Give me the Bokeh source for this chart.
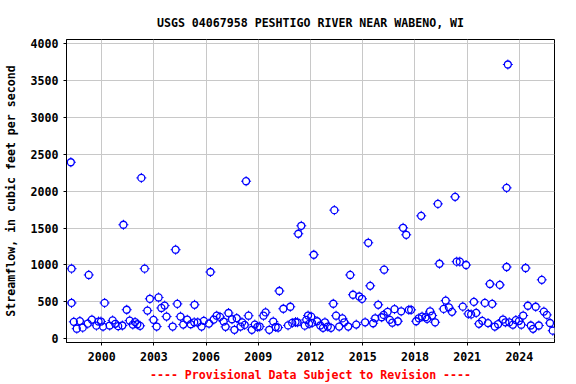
import numpy as np
from bokeh.plotting import figure
from bokeh.models import Range1d, FixedTicker, Title
from bokeh.embed import file_html
from bokeh.resources import INLINE

# Field measurement dates (decimal years) and streamflow (cubic feet per second)
years = [
    1998.23, 1998.27, 1998.27, 1998.40, 1998.57, 1998.75, 1998.91, 1999.20, 1999.26, 1999.44,
    1999.70, 1999.82, 1999.96, 2000.08, 2000.17, 2000.46, 2000.63, 2000.78, 2000.95, 2001.19,
    2001.25, 2001.44, 2001.61, 2001.79, 2001.92, 2002.05, 2002.21, 2002.28, 2002.47, 2002.63,
    2002.77, 2002.98, 2003.16, 2003.27, 2003.43, 2003.62, 2003.73, 2004.08, 2004.25, 2004.35,
    2004.53, 2004.69, 2004.92, 2005.12, 2005.32, 2005.34, 2005.52, 2005.74, 2005.87, 2006.17,
    2006.25, 2006.44, 2006.61, 2006.80, 2007.01, 2007.12, 2007.29, 2007.49, 2007.63, 2007.76,
    2007.98, 2008.07, 2008.22, 2008.30, 2008.44, 2008.63, 2008.80, 2008.95, 2009.08, 2009.30,
    2009.42, 2009.63, 2009.86, 2010.00, 2010.14, 2010.21, 2010.44, 2010.71, 2010.84, 2010.95,
    2011.14, 2011.25, 2011.30, 2011.47, 2011.67, 2011.76, 2011.86, 2011.92, 2012.04, 2012.09,
    2012.19, 2012.38, 2012.56, 2012.72, 2012.83, 2012.99, 2013.18, 2013.31, 2013.37, 2013.47,
    2013.65, 2013.83, 2013.94, 2014.17, 2014.28, 2014.44, 2014.63, 2014.80, 2014.96, 2015.14,
    2015.32, 2015.43, 2015.60, 2015.72, 2015.89, 2016.09, 2016.20, 2016.23, 2016.43, 2016.56,
    2016.70, 2016.83, 2017.02, 2017.21, 2017.32, 2017.50, 2017.65, 2017.78, 2018.07, 2018.22,
    2018.36, 2018.41, 2018.61, 2018.70, 2018.87, 2018.99, 2019.16, 2019.32, 2019.41, 2019.65,
    2019.77, 2019.95, 2020.13, 2020.31, 2020.40, 2020.58, 2020.75, 2020.94, 2021.07, 2021.23,
    2021.39, 2021.52, 2021.68, 2021.87, 2022.02, 2022.20, 2022.31, 2022.44, 2022.59, 2022.78,
    2022.88, 2023.06, 2023.20, 2023.27, 2023.27, 2023.34, 2023.42, 2023.63, 2023.80, 2023.98,
    2024.11, 2024.22, 2024.36, 2024.49, 2024.66, 2024.79, 2024.94, 2025.12, 2025.29, 2025.41,
    2025.58, 2025.76, 2025.92,
]
flow = [
    2392, 950, 486, 230, 137, 240, 151, 205, 865, 259,
    178, 234, 234, 166, 486, 180, 249, 203, 171, 180,
    1545, 394, 247, 193, 227, 197, 176, 2180, 950, 382,
    542, 257, 166, 560, 418, 450, 301, 166, 1207, 473,
    301, 193, 259, 198, 224, 461, 222, 166, 243, 207,
    905, 261, 313, 297, 234, 162, 350, 265, 122, 280,
    166, 222, 188, 2135, 313, 122, 193, 162, 166, 313,
    358, 122, 234, 160, 152, 648, 407, 182, 434, 215,
    227, 224, 1423, 1531, 178, 257, 315, 203, 300, 215,
    1139, 238, 180, 149, 224, 166, 149, 475, 1743, 313,
    166, 276, 224, 166, 865, 597, 193, 573, 542, 224,
    1301, 718, 211, 278, 461, 292, 324, 936, 365, 257,
    218, 402, 238, 373, 1504, 1409, 392, 392, 238, 278,
    1666, 301, 292, 270, 373, 315, 224, 1828, 1017, 405,
    518, 427, 365, 1923, 1045, 1045, 436, 1000, 338, 331,
    500, 351, 203, 243, 486, 213, 743, 473, 166, 198,
    730, 261, 224, 973, 2045, 3716, 224, 191, 254, 240,
    191, 315, 959, 448, 180, 135, 434, 180, 799, 369,
    324, 214, 110,
]

x_ticks = [2000, 2003, 2006, 2009, 2012, 2015, 2018, 2021, 2024]
y_ticks = [0, 500, 1000, 1500, 2000, 2500, 3000, 3500, 4000]

title_text = "USGS 04067958 PESHTIGO RIVER NEAR WABENO, WI"
footer_text = "---- Provisional Data Subject to Revision ----"
y_label = "Streamflow, in cubic feet per second"

FONT = "DejaVu Sans Mono"
FS = "11.6px"

p = figure(width=576, height=384, output_backend="svg", toolbar_location=None,
           x_range=Range1d(1997.98, 2026.02), y_range=Range1d(-50, 4055),
           min_border_left=65, min_border_right=22, min_border_top=39,
           min_border_bottom=42, background_fill_color="white",
           border_fill_color="white")

p.title = Title(text=title_text, align="center", text_font=FONT,
                text_font_size=FS, text_font_style="bold", text_color="black",
                standoff=20)

p.outline_line_color = "black"
p.outline_line_width = 1

for ax in (p.xaxis[0], p.yaxis[0]):
    ax.major_label_text_font = FONT
    ax.major_label_text_font_size = FS
    ax.major_label_text_font_style = "bold"
    ax.major_label_text_color = "black"
    ax.minor_tick_line_color = None
    ax.major_tick_in = 0
    ax.major_tick_out = 3
    ax.major_label_standoff = 5
    ax.axis_line_color = "black"

p.xaxis.major_label_standoff = 6
p.xaxis.axis_label = footer_text
p.xaxis.axis_label_text_font = FONT
p.xaxis.axis_label_text_font_size = FS
p.xaxis.axis_label_text_font_style = "bold"
p.xaxis.axis_label_text_color = "#FF0000"
p.xaxis.axis_label_standoff = 4

p.xaxis.ticker = FixedTicker(ticks=x_ticks)
p.yaxis.ticker = FixedTicker(ticks=y_ticks)
p.yaxis.axis_label = y_label
p.yaxis.axis_label_text_font = FONT
p.yaxis.axis_label_text_font_size = FS
p.yaxis.axis_label_text_font_style = "bold"
p.yaxis.axis_label_text_color = "black"
p.yaxis.axis_label_standoff = 10

p.xgrid.ticker = FixedTicker(ticks=x_ticks)
p.ygrid.ticker = FixedTicker(ticks=y_ticks)
p.grid.grid_line_color = "#C8C8C8"
p.grid.grid_line_width = 1

src = dict(x=years, y=flow)
p.scatter(x="x", y="y", source=src, marker="cross", size=10,
          line_color="#0000FF", line_width=1)
p.scatter(x="x", y="y", source=src, marker="circle", size=7,
          line_color=None, fill_color="white")
p.scatter(x="x", y="y", source=src, marker="circle", size=7,
          line_color="#0000FF", fill_color=None, line_width=1.3)

open("out.html", "w").write(file_html(p, INLINE))
